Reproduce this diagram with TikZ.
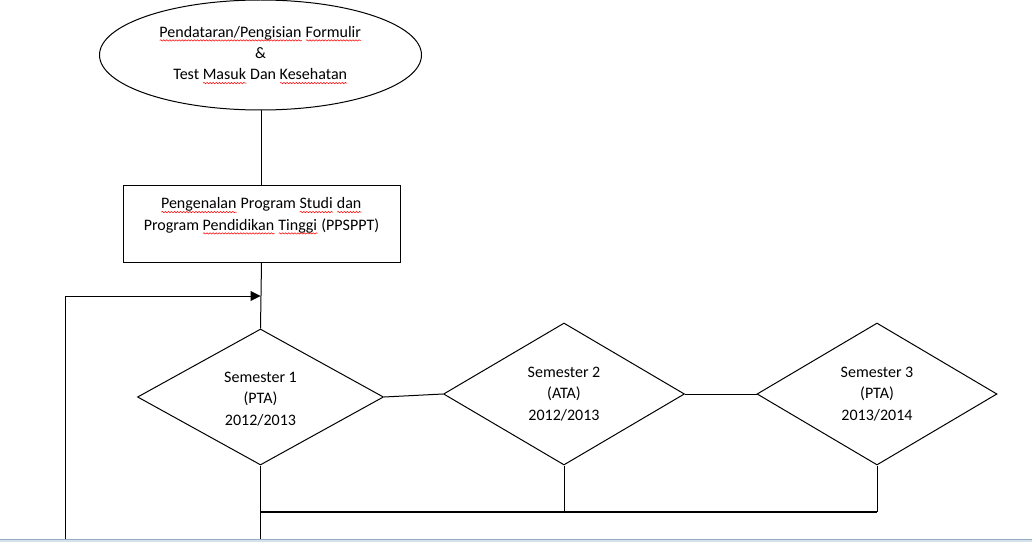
\documentclass[tikz,border=0pt]{standalone}
\usepackage{fontspec}
\setmainfont{Carlito}
\usetikzlibrary{shapes.geometric,arrows.meta,decorations.pathmorphing}
\newsavebox\sqbox
\newlength\sqwd
\newcommand\sqw[1]{\sbox\sqbox{#1}\setlength\sqwd{\wd\sqbox}\leavevmode\rlap{\usebox\sqbox}\tikz[baseline=0pt]\draw[red,line width=0.4pt,decorate,decoration={snake,amplitude=0.5pt,segment length=2.3pt}] (0pt,-2.5pt) -- (\sqwd,-2.5pt);}
\definecolor{stripfill}{RGB}{214,225,238}
\definecolor{stripline}{RGB}{150,170,195}
\begin{document}
\begin{tikzpicture}[x=0.75pt,y=-0.75pt,line width=0.75pt,
  txt/.style={font=\fontsize{12}{16}\selectfont,align=center,inner sep=0pt},
  oval/.style={ellipse,draw,minimum width=241.5pt,minimum height=82.5pt,inner sep=0pt},
  boxnode/.style={rectangle,draw,minimum width=207.75pt,minimum height=57.75pt,inner sep=0pt},
  dia/.style={diamond,draw,aspect=1.8,inner sep=0pt},
  link/.style={draw,line width=0.75pt},
  bar/.style={draw,line width=1.1pt}]
\useasboundingbox (0,0) rectangle (1032,542);
% start oval
\node[oval,txt] (e) at (260.5,55) {\sqw{Pendataran/Pengisian} \sqw{Formulir}\\ \&\\ Test \sqw{Masuk} Dan \sqw{Kesehatan}};
% box
\node[boxnode] (r) at (261.5,223.5) {};
\node[txt] (rt) at (261.5,216) {\sqw{Pengenalan} Program \sqw{Studi} \sqw{dan}\\ Program \sqw{Pendidikan} \sqw{Tinggi} (PPSPPT)};
% diamonds
\node[dia,minimum width=184.5pt,minimum height=102pt] (d1) at (260.5,397) {};
\node[txt] (t1) at (260.5,399) {Semester 1\\ (PTA)\\ 2012/2013};
\node[dia,minimum width=180.75pt,minimum height=106.5pt] (d2) at (564,394) {};
\node[txt] (t2) at (564,394) {Semester 2\\ (ATA)\\ 2012/2013};
\node[dia,minimum width=180pt,minimum height=106.5pt] (d3) at (877,394) {};
\node[txt] (t3) at (877,394) {Semester 3\\ (PTA)\\ 2013/2014};
% coordinates
\coordinate (m) at (260.5,296);
\coordinate (lb) at (65,538.5);
\coordinate (b1) at (260.5,538.5);
\coordinate (j1) at (260.5,512);
\coordinate (j3) at (877,512);
% connectors
\draw[link] (e.south) -- (r.south |- e.south) -- (r.north);
\draw[link] (r.south) -- (d1.north);
\draw[link,-{Triangle[length=7.5pt,width=7.5pt]}] (lb) |- (m);
\draw[link] (d1.east) -- (d2.west);
\draw[link] (d2.east) -- (d3.west);
\draw[link] (d1.south) -- (b1);
\draw[bar] (j1) -- (j3);
\draw[link] (d2.south) -- (d2.south |- j1);
\draw[link] (d3.south) -- (d3.south |- j3);
% window strip at bottom
\fill[stripfill] (0,539) rectangle (1032,542);
\draw[stripline,line width=0.75pt] (0,539) -- (1032,539);
\end{tikzpicture}
\end{document}
